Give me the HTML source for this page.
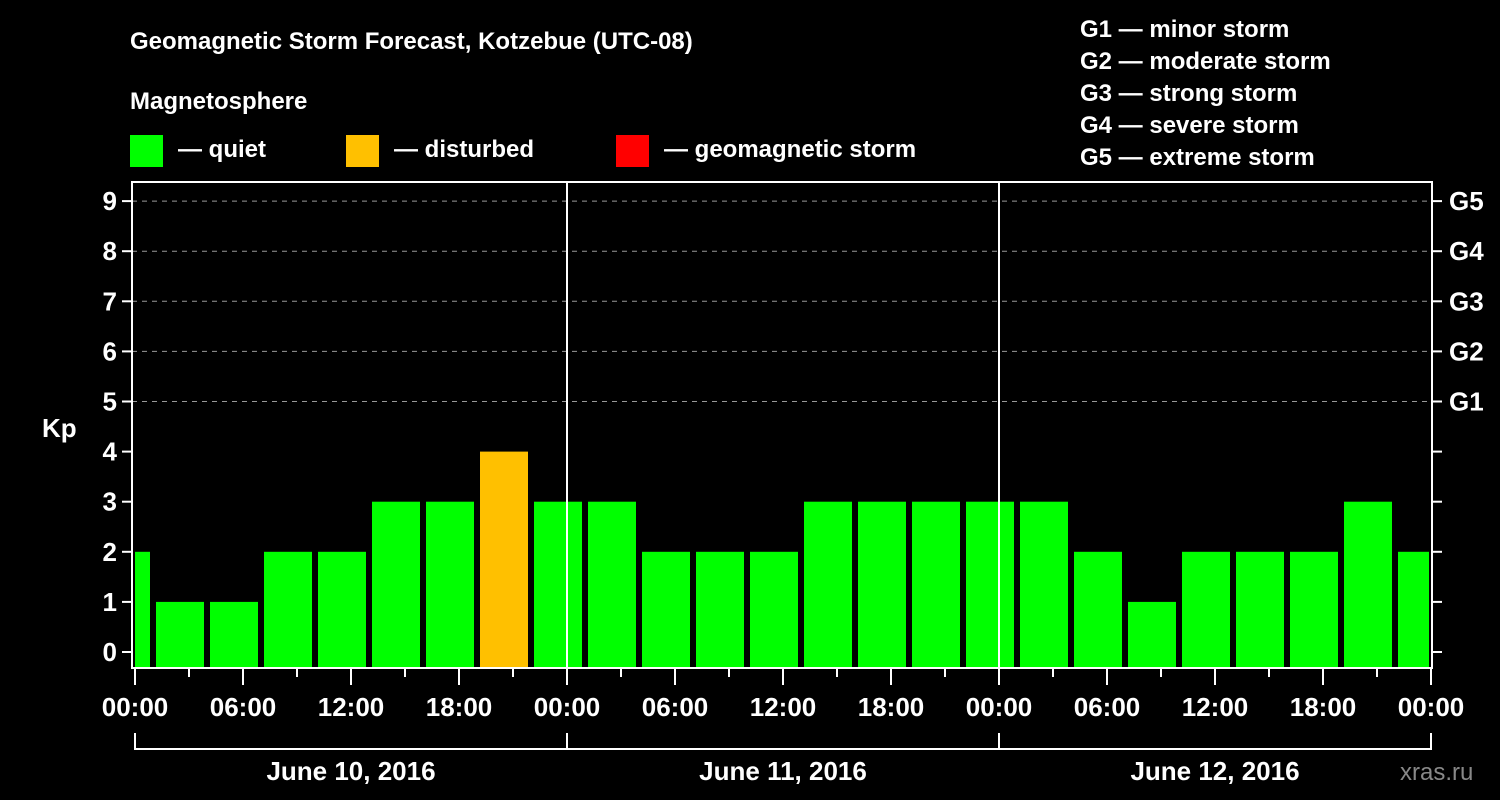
<!DOCTYPE html>
<html><head><meta charset="utf-8"><style>
html,body{margin:0;padding:0;background:#000;}
svg{display:block;font-family:"Liberation Sans",Arial,sans-serif;font-weight:bold;}
</style></head><body>
<svg id="chart" width="1500" height="800" viewBox="0 0 1500 800">
<rect x="0" y="0" width="1500" height="800" fill="#000"/>
<text x="130" y="49" fill="#fff" font-size="24">Geomagnetic Storm Forecast, Kotzebue (UTC-08)</text>
<text x="130" y="109" fill="#fff" font-size="24">Magnetosphere</text>
<g><rect x="130" y="135" width="33" height="32" fill="#00ff00"/><text x="178" y="157" fill="#fff" font-size="24">— quiet</text></g>
<g><rect x="346" y="135" width="33" height="32" fill="#ffc000"/><text x="394" y="157" fill="#fff" font-size="24">— disturbed</text></g>
<g><rect x="616" y="135" width="33" height="32" fill="#ff0000"/><text x="664" y="157" fill="#fff" font-size="24">— geomagnetic storm</text></g>
<g fill="#fff" font-size="24">
<text x="1080" y="37">G1 — minor storm</text>
<text x="1080" y="69">G2 — moderate storm</text>
<text x="1080" y="101">G3 — strong storm</text>
<text x="1080" y="133">G4 — severe storm</text>
<text x="1080" y="165">G5 — extreme storm</text>
</g>
<text x="42" y="437" fill="#fff" font-size="26">Kp</text>
<text x="1400" y="780" fill="#888" font-size="24" font-weight="normal">xras.ru</text>
<g id="grid"></g>
<g id="bars"></g>
<g id="axes"></g>
</svg>
<script>
const kpValues=[2,1,1,2,2,3,3,4,3,3,2,2,2,3,3,3,3,3,2,1,2,2,2,3,2];
const barHours=[-0.5,2.5,5.5,8.5,11.5,14.5,17.5,20.5,23.5,26.5,29.5,32.5,35.5,38.5,41.5,44.5,47.5,50.5,53.5,56.5,59.5,62.5,65.5,68.5,71.5];
const yTicks=[0,1,2,3,4,5,6,7,8,9];
const gLabels=["G1","G2","G3","G4","G5"];
const gLevels=[5,6,7,8,9];
const xTickLabels=["00:00","06:00","12:00","18:00","00:00","06:00","12:00","18:00","00:00","06:00","12:00","18:00","00:00"];
const dayLabels=["June 10, 2016","June 11, 2016","June 12, 2016"];
const NS="http://www.w3.org/2000/svg";
const L=132,R=1432,T=182,B=668;
const X0=135,X1=1431,HOURS=72;
function x(h){return X0+(X1-X0)*h/HOURS;}
function y(v){return 652-v*50.1;}
function mk(tag,attrs,parent,text){const e=document.createElementNS(NS,tag);for(const k in attrs)e.setAttribute(k,attrs[k]);if(text!==undefined)e.textContent=text;parent.appendChild(e);return e;}
const grid=document.getElementById('grid'),bars=document.getElementById('bars'),axes=document.getElementById('axes');
// clip
const defs=mk('defs',{},document.getElementById('chart'));
const cp=mk('clipPath',{id:'plotclip'},defs);
mk('rect',{x:X0,y:T,width:X1-X0-2,height:B-T},cp);
bars.setAttribute('clip-path','url(#plotclip)');
yTicks.forEach(v=>{
  if(v>=5){const gl=mk('line',{x1:L,x2:R,y1:y(v),y2:y(v),stroke:'#999','stroke-width':1,'stroke-dasharray':'5,5'},grid);
  
  }
  const t=mk('line',{x1:L-10,x2:L,y1:y(v),y2:y(v),stroke:'#fff','stroke-width':2},axes);
  
  
  const lb=mk('text',{x:L-15,y:y(v)+9,fill:'#fff','font-size':26,'text-anchor':'end'},axes,String(v));
  
  
  const rt=mk('line',{x1:R,x2:R+10,y1:y(v),y2:y(v),stroke:'#fff','stroke-width':2},axes);
  
  
});
gLevels.forEach((v,i)=>{
  const t=mk('text',{x:R+17,y:y(v)+9,fill:'#fff','font-size':26},axes,gLabels[i]);
  
  
});
kpValues.forEach((v,i)=>{
  const c=x(barHours[i]);
  const col=v>=5?'#ff0000':(v>=4?'#ffc000':'#00ff00');
  const r=mk('rect',{x:c-24,y:y(v),width:48,height:B-y(v),fill:col},bars);
  
  
});
[24,48].forEach(h=>{
  const l=mk('line',{x1:x(h),x2:x(h),y1:T,y2:B,stroke:'#fff','stroke-width':2},axes);
  
  
});
const fr=mk('rect',{x:L,y:T,width:R-L,height:B-T,fill:'none',stroke:'#fff','stroke-width':2},axes);


for(let h=0;h<=HOURS;h+=3){
  const major=h%6===0;
  const t=mk('line',{x1:x(h),x2:x(h),y1:B,y2:B+(major?17:9),stroke:'#fff','stroke-width':2},axes);
  
  
}
xTickLabels.forEach((s,i)=>{
  const t=mk('text',{x:x(i*6),y:716,fill:'#fff','font-size':26,'text-anchor':'middle'},axes,s);
  
  
});
const br=mk('polyline',{points:`${x(0)},733 ${x(0)},749 ${x(72)},749 ${x(72)},733`,fill:'none',stroke:'#fff','stroke-width':2},axes);


[24,48].forEach(h=>{
  const l=mk('line',{x1:x(h),x2:x(h),y1:733,y2:749,stroke:'#fff','stroke-width':2},axes);
  
  
});
dayLabels.forEach((s,i)=>{
  const t=mk('text',{x:x(i*24+12),y:780,fill:'#fff','font-size':26,'text-anchor':'middle'},axes,s);
  
  
});
</script>
</body></html>
